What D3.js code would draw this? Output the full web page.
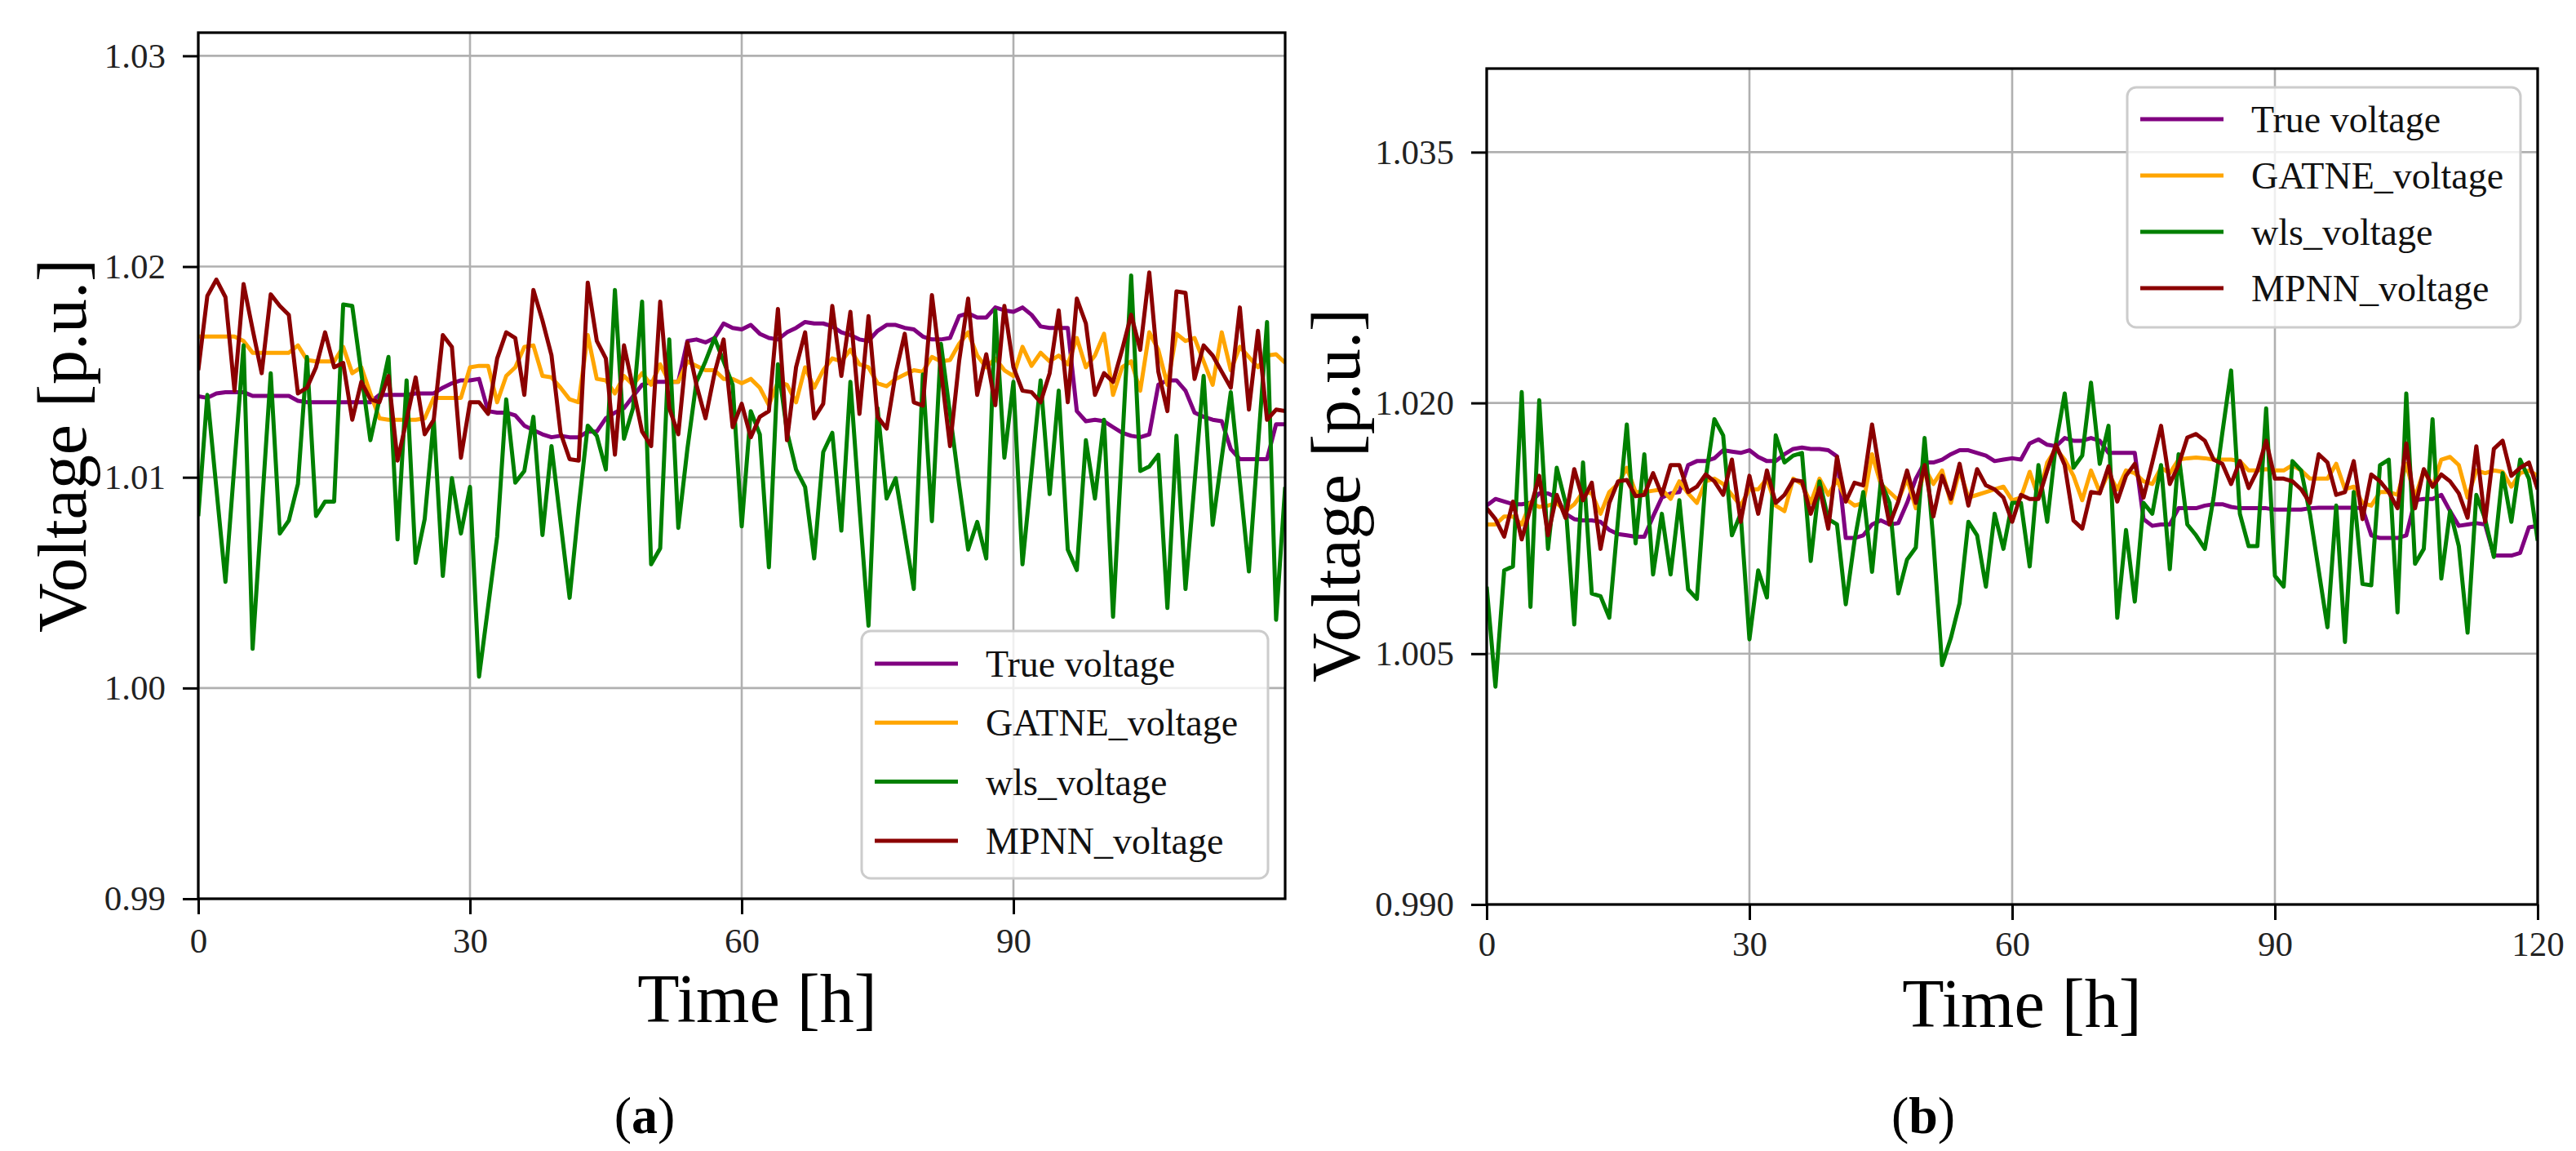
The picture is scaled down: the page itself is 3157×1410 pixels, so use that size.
<!DOCTYPE html>
<html>
<head>
<meta charset="utf-8">
<script src="https://cdn.jsdelivr.net/npm/d3@7"></script>
<style>
  body { margin: 0; background: #fff; }
  svg { display: block; }
  text { font-family: "Liberation Serif", "Times New Roman", serif; }
</style>
</head>
<body>
<svg id="fig"></svg>
<script>
// Figure size
const W = 3157, H = 1410;

// Hours on the x axis (0..120)
const hours = d3.range(121);

// Series names and colours (matplotlib named colours)
const seriesNames = ["True voltage", "GATNE_voltage", "wls_voltage", "MPNN_voltage"];
const seriesColors = ["#800080", "#ffa500", "#008000", "#8b0000"];

// Tick values
const xTicksA = [0, 30, 60, 90];
const xTicksB = [0, 30, 60, 90, 120];
const yTicksA = [0.99, 1.00, 1.01, 1.02, 1.03];
const yTicksB = [0.990, 1.005, 1.020, 1.035];

// ---- Panel (a) data ----
const trueA = [1.01384,1.01377,1.01398,1.01404,1.01404,1.01404,1.01386,1.01386,1.01386,1.01386,
1.01386,1.01363,1.01356,1.01356,1.01356,1.01356,1.01356,1.01356,1.01356,1.01356,
1.01391,1.01391,1.01391,1.01391,1.01398,1.01398,1.01398,1.01425,1.01446,1.0146,
1.0146,1.01467,1.01314,1.01307,1.01307,1.01294,1.01245,1.01224,1.01204,1.0119,
1.01197,1.0119,1.0119,1.01217,1.01217,1.0128,1.01307,1.01328,1.01384,1.01439,
1.01453,1.01453,1.01453,1.01453,1.01647,1.01654,1.0164,1.01661,1.0173,1.01709,
1.01702,1.01723,1.01681,1.01661,1.01654,1.01688,1.01709,1.01737,1.0173,1.0173,
1.01716,1.01688,1.01675,1.01654,1.01647,1.01695,1.01723,1.01723,1.01709,1.01702,
1.01668,1.01654,1.01654,1.01661,1.01765,1.01778,1.01758,1.01758,1.01806,1.01792,
1.01785,1.01806,1.01771,1.01716,1.01709,1.01709,1.01709,1.01314,1.01266,1.01273,
1.01266,1.01238,1.01211,1.01197,1.0119,1.01204,1.01439,1.0146,1.0146,1.01411,
1.01307,1.01287,1.01273,1.01266,1.01134,1.01086,1.01086,1.01086,1.01086,1.01252,
1.01252];

const gatneA = [1.01668,1.01668,1.01668,1.01668,1.01668,1.01647,1.01591,1.01591,1.01591,1.01591,
1.01591,1.01626,1.01557,1.0155,1.0155,1.0155,1.01619,1.01494,1.01522,1.01398,
1.0128,1.01273,1.01273,1.01273,1.01273,1.0128,1.01377,1.01377,1.01377,1.01377,
1.01522,1.01529,1.01529,1.01356,1.01481,1.01522,1.01619,1.01626,1.01481,1.01474,
1.01425,1.0137,1.01356,1.01675,1.01467,1.0146,1.01398,1.01481,1.01439,1.01494,
1.01439,1.01536,1.01453,1.01453,1.0155,1.01529,1.01508,1.01508,1.01467,1.01467,
1.01446,1.01467,1.01425,1.01342,1.01453,1.01439,1.01356,1.01522,1.01425,1.01508,
1.01564,1.0155,1.01605,1.01536,1.01522,1.01446,1.01432,1.01467,1.01488,1.01508,
1.01501,1.01571,1.0155,1.01557,1.01633,1.01688,1.01578,1.01522,1.01564,1.01508,
1.01481,1.01619,1.01529,1.01591,1.0155,1.01578,1.01536,1.01661,1.01522,1.01578,
1.01681,1.01391,1.01522,1.0155,1.01411,1.01688,1.01605,1.01439,1.01681,1.01647,
1.01661,1.0155,1.01439,1.01688,1.01508,1.01619,1.01571,1.01522,1.01578,1.01584,
1.01543];

const wlsA = [1.00816,1.01391,1.00947,1.00504,1.01065,1.01626,1.00186,1.00843,1.01494,1.00733,
1.00795,1.00968,1.01571,1.00816,1.00885,1.00885,1.0182,1.01813,1.01494,1.01176,
1.0137,1.01571,1.00705,1.0146,1.00594,1.00802,1.01273,1.00532,1.00996,1.00733,
1.00954,1.00054,1.00386,1.00719,1.0137,1.00975,1.0103,1.01287,1.00726,1.01148,
1.00788,1.00428,1.00857,1.01245,1.01197,1.01037,1.01889,1.01183,1.01328,1.01834,
1.00587,1.00663,1.01654,1.0076,1.01134,1.01453,1.0155,1.01661,1.0155,1.01439,
1.00767,1.01314,1.01204,1.00573,1.01536,1.01217,1.01037,1.00954,1.00615,1.0112,
1.01211,1.00747,1.01453,1.00857,1.00296,1.01328,1.00899,1.00996,1.00733,1.0047,
1.01488,1.00792,1.01633,1.01301,1.00968,1.00657,1.00788,1.00615,1.01792,1.01093,
1.01453,1.00587,1.01024,1.0146,1.0092,1.01411,1.00657,1.0056,1.01176,1.00899,
1.01273,1.00338,1.01148,1.01958,1.0103,1.01051,1.01107,1.0038,1.01197,1.0047,
1.00975,1.01481,1.00774,1.01093,1.01404,1.00982,1.00553,1.01148,1.01737,1.00324,
1.00954];

const mpnnA = [1.01508,1.01861,1.01938,1.01855,1.01411,1.01917,1.01702,1.01494,1.01868,1.01813,
1.01771,1.01398,1.01425,1.01522,1.01688,1.01522,1.01543,1.01273,1.01453,1.0137,
1.01356,1.01481,1.01079,1.01273,1.01474,1.01204,1.01273,1.01675,1.01619,1.01093,
1.01356,1.01356,1.01301,1.01564,1.01688,1.01661,1.01391,1.01889,1.01744,1.01578,
1.01211,1.01086,1.01079,1.01924,1.01647,1.01564,1.01107,1.01626,1.01425,1.01217,
1.01148,1.01834,1.01328,1.01204,1.0164,1.01439,1.0128,1.01494,1.01654,1.01238,
1.01349,1.0119,1.01287,1.01314,1.01799,1.01176,1.01522,1.01688,1.0128,1.01349,
1.01813,1.01481,1.01785,1.01301,1.01765,1.01287,1.01231,1.01494,1.01681,1.01356,
1.0134,1.01865,1.01508,1.01148,1.0155,1.01848,1.01391,1.01584,1.01342,1.01813,
1.01522,1.01411,1.01404,1.01356,1.01494,1.01792,1.01356,1.01848,1.0173,1.01391,
1.01494,1.01453,1.01605,1.01771,1.01605,1.01972,1.01501,1.01314,1.01882,1.01875,
1.01467,1.01626,1.01578,1.01501,1.01425,1.01806,1.01321,1.01695,1.01273,1.01321,
1.01314];

// ---- Panel (b) data ----
const trueB = [1.01386,1.01426,1.0141,1.01394,1.01394,1.01402,1.01459,1.01459,1.01434,1.01337,
1.01305,1.01297,1.01297,1.01289,1.0124,1.01216,1.01208,1.012,1.012,1.01321,
1.01434,1.01459,1.01467,1.01628,1.01652,1.01652,1.01669,1.01717,1.01709,1.01701,
1.01717,1.01677,1.01652,1.01652,1.01693,1.01725,1.01733,1.01725,1.01725,1.01717,
1.0168,1.01192,1.01192,1.01208,1.01273,1.01297,1.01273,1.01281,1.01402,1.01547,
1.01644,1.01644,1.01661,1.01693,1.01717,1.01717,1.01701,1.01685,1.01652,1.01661,
1.01669,1.01661,1.01758,1.01782,1.0175,1.01741,1.0179,1.01774,1.01774,1.0179,
1.01774,1.01701,1.01701,1.01701,1.01701,1.01305,1.01265,1.01273,1.01273,1.0137,
1.0137,1.0137,1.01386,1.01394,1.01394,1.01378,1.0137,1.0137,1.0137,1.0137,
1.01362,1.01362,1.01362,1.01362,1.0137,1.01373,1.01373,1.01373,1.01373,1.01373,
1.0137,1.01208,1.01192,1.01192,1.01192,1.01208,1.01418,1.01426,1.01426,1.0145,
1.01353,1.01265,1.01273,1.01281,1.01273,1.01087,1.01087,1.01087,1.01103,1.01256,
1.01265];

const gatneB = [1.01273,1.01273,1.01321,1.01321,1.01273,1.01402,1.01378,1.01386,1.01402,1.01353,
1.01394,1.01467,1.01459,1.01337,1.01467,1.01515,1.01612,1.01467,1.01467,1.01475,
1.01483,1.01426,1.01531,1.01459,1.01402,1.01531,1.01547,1.01515,1.0145,1.01386,
1.01483,1.01483,1.01547,1.01386,1.01353,1.01547,1.01515,1.01402,1.01547,1.0145,
1.01539,1.01426,1.01386,1.01402,1.01693,1.01515,1.01467,1.01418,1.01547,1.0137,
1.01612,1.01515,1.01596,1.01402,1.01596,1.01434,1.0145,1.01467,1.01483,1.01499,
1.01418,1.01434,1.01588,1.01434,1.01644,1.01725,1.01661,1.01564,1.01418,1.01596,
1.01467,1.0158,1.01483,1.01596,1.0158,1.01531,1.01515,1.01612,1.0158,1.01661,
1.01669,1.01673,1.01669,1.01661,1.01661,1.01661,1.01652,1.01596,1.01596,1.01604,
1.01596,1.01596,1.01628,1.01596,1.01547,1.01547,1.01547,1.01636,1.01483,1.01499,
1.01402,1.01386,1.01467,1.01467,1.0145,1.01636,1.01434,1.01596,1.01499,1.01661,
1.01677,1.01628,1.01434,1.01596,1.0158,1.01596,1.01588,1.01499,1.0158,1.01596,
1.01564];

const wlsB = [1.00901,1.00303,1.00998,1.01022,1.02065,1.0078,1.02016,1.01127,1.01612,1.01402,
1.00675,1.01644,1.0086,1.00844,1.00715,1.01305,1.01871,1.0116,1.01693,1.00974,
1.01337,1.00974,1.01418,1.00885,1.00828,1.01547,1.01903,1.01806,1.01208,1.01337,
1.00586,1.00998,1.00836,1.01806,1.01644,1.01685,1.01701,1.01054,1.01531,1.01305,
1.01273,1.00796,1.01176,1.01467,1.0099,1.01531,1.01402,1.0086,1.01063,1.01135,
1.0179,1.01176,1.00432,1.00594,1.00804,1.01289,1.01208,1.00901,1.01337,1.01127,
1.01402,1.01402,1.01022,1.01628,1.01289,1.01758,1.02057,1.01612,1.01685,1.02121,
1.01636,1.01863,1.00715,1.0124,1.00812,1.01402,1.01337,1.01628,1.01006,1.01693,
1.01273,1.01208,1.01127,1.01434,1.01822,1.02194,1.01337,1.01143,1.01143,1.01968,
1.00966,1.00901,1.01652,1.01596,1.01337,1.00998,1.00658,1.01386,1.0057,1.01467,
1.00917,1.00909,1.01628,1.01661,1.00747,1.02057,1.01038,1.01127,1.01903,1.00949,
1.01353,1.01143,1.00626,1.0145,1.01305,1.01079,1.0158,1.01289,1.01661,1.01547,
1.01176];

const mpnnB = [1.0137,1.01305,1.012,1.0141,1.01184,1.0137,1.01564,1.01208,1.0145,1.01313,
1.01604,1.01418,1.01523,1.01127,1.01402,1.01531,1.01539,1.01442,1.0145,1.0158,
1.0145,1.01628,1.01628,1.01467,1.01499,1.01572,1.01531,1.0145,1.01661,1.01289,
1.01564,1.01337,1.01596,1.01402,1.0145,1.01539,1.01531,1.01337,1.01491,1.01248,
1.01677,1.0141,1.01523,1.01507,1.01871,1.01547,1.01273,1.0141,1.01596,1.01402,
1.01628,1.01321,1.01564,1.01426,1.01636,1.01386,1.01604,1.01507,1.01483,1.01434,
1.01289,1.0145,1.01426,1.01426,1.01596,1.0175,1.01628,1.01297,1.01248,1.01467,
1.01459,1.0162,1.0141,1.01564,1.01636,1.01434,1.01644,1.01863,1.01515,1.01628,
1.01793,1.01814,1.01774,1.01661,1.01636,1.01515,1.01652,1.01491,1.01596,1.01774,
1.01547,1.01547,1.01531,1.01483,1.01402,1.01693,1.01644,1.0145,1.01467,1.01652,
1.01305,1.01572,1.01531,1.01467,1.0137,1.01758,1.0137,1.01604,1.01499,1.01572,
1.01531,1.01459,1.01313,1.01741,1.01289,1.01725,1.01774,1.01564,1.01612,1.01644,
1.01483];

const svg = d3.select("#fig")
  .attr("width", W)
  .attr("height", H)
  .attr("viewBox", `0 0 ${W} ${H}`);

svg.append("rect").attr("width", W).attr("height", H).attr("fill", "#fff");

// Draw one subplot
function drawPanel(p) {
  const x = d3.scaleLinear().domain([0, 120]).range([p.left, p.right]);
  const y = d3.scaleLinear().domain(p.yDomain).range([p.bottom, p.top]);
  const g = svg.append("g");

  const clipId = "clip-" + p.id;
  svg.append("clipPath").attr("id", clipId)
    .append("rect")
    .attr("x", p.left).attr("y", p.top)
    .attr("width", p.right - p.left).attr("height", p.bottom - p.top);

  // grid
  g.append("g").selectAll("line")
    .data(p.xTicks)
    .enter().append("line")
    .attr("x1", d => x(d)).attr("x2", d => x(d))
    .attr("y1", p.top).attr("y2", p.bottom)
    .attr("stroke", "#b0b0b0").attr("stroke-width", 2.6);
  g.append("g").selectAll("line")
    .data(p.yTicks)
    .enter().append("line")
    .attr("x1", p.left).attr("x2", p.right)
    .attr("y1", d => y(d)).attr("y2", d => y(d))
    .attr("stroke", "#b0b0b0").attr("stroke-width", 2.6);

  // series
  const line = d3.line()
    .x((d, i) => x(hours[i]))
    .y(d => y(d));
  const lines = g.append("g").attr("clip-path", `url(#${clipId})`);
  p.series.forEach((s, k) => {
    lines.append("path")
      .datum(s)
      .attr("d", line)
      .attr("fill", "none")
      .attr("stroke", seriesColors[k])
      .attr("stroke-width", 5)
      .attr("stroke-linejoin", "round");
  });

  // axes
  const xAxis = g.append("g")
    .attr("transform", `translate(0,${p.bottom})`)
    .call(d3.axisBottom(x).tickValues(p.xTicks).tickFormat(d3.format("d"))
      .tickSize(19).tickSizeOuter(0).tickPadding(p.xPad));
  const yAxis = g.append("g")
    .attr("transform", `translate(${p.left},0)`)
    .call(d3.axisLeft(y).tickValues(p.yTicks).tickFormat(d3.format(p.yFmt))
      .tickSize(19).tickSizeOuter(0).tickPadding(21));
  [xAxis, yAxis].forEach(a => {
    a.select(".domain").remove();
    a.selectAll(".tick line").attr("stroke", "#000").attr("stroke-width", 3);
    a.selectAll(".tick text")
      .attr("fill", "#222")
      .style("font-size", "43px")
      .style("font-family", '"Liberation Serif", serif');
  });

  // frame
  g.append("rect")
    .attr("x", p.left).attr("y", p.top)
    .attr("width", p.right - p.left).attr("height", p.bottom - p.top)
    .attr("fill", "none").attr("stroke", "#000").attr("stroke-width", 3.2);

  // axis labels
  g.append("text")
    .attr("x", p.xLabelX).attr("y", p.xLabelY)
    .attr("text-anchor", "middle")
    .style("font-size", "84px")
    .text("Time [h]");
  g.append("text")
    .attr("transform", `translate(${p.yLabelX},${p.yLabelY}) rotate(-90)`)
    .attr("text-anchor", "middle")
    .style("font-size", "84px")
    .text("Voltage [p.u.]");

  // legend
  const lg = g.append("g").attr("transform", `translate(${p.legend.x},${p.legend.y})`);
  lg.append("rect")
    .attr("width", p.legend.w).attr("height", p.legend.h)
    .attr("rx", 11).attr("ry", 11)
    .attr("fill", "#fff").attr("fill-opacity", 0.8)
    .attr("stroke", "#cccccc").attr("stroke-width", 3);
  seriesNames.forEach((name, k) => {
    const ry = p.legend.row0 + k * p.legend.gap;
    lg.append("line")
      .attr("x1", 16).attr("x2", 118)
      .attr("y1", ry).attr("y2", ry)
      .attr("stroke", seriesColors[k]).attr("stroke-width", 5);
    lg.append("text")
      .attr("x", 152).attr("y", ry)
      .attr("dy", "0.35em")
      .attr("fill", "#111")
      .style("font-size", "46px")
      .text(name);
  });

  // caption
  const cap = g.append("text")
    .attr("x", p.captionX).attr("y", 1388)
    .attr("text-anchor", "middle")
    .style("font-size", "64px");
  cap.append("tspan").text("(");
  cap.append("tspan").attr("font-weight", "bold").text(p.caption);
  cap.append("tspan").text(")");
}

drawPanel({
  id: "a",
  left: 243, right: 1575, top: 40, bottom: 1101,
  yDomain: [0.99, 1.0311], yTicks: yTicksA, yFmt: ".2f", xTicks: xTicksA, xPad: 16,
  series: [trueA, gatneA, wlsA, mpnnA],
  xLabelX: 928, xLabelY: 1252, yLabelX: 105, yLabelY: 546,
  legend: { x: 1056, y: 773, w: 498, h: 303, row0: 40, gap: 72.3 },
  captionX: 790, caption: "a"
});

drawPanel({
  id: "b",
  left: 1822, right: 3110, top: 84, bottom: 1108,
  yDomain: [0.99, 1.04], yTicks: yTicksB, yFmt: ".3f", xTicks: xTicksB, xPad: 13,
  series: [trueB, gatneB, wlsB, mpnnB],
  xLabelX: 2478, xLabelY: 1258, yLabelX: 1666, yLabelY: 607,
  legend: { x: 2607, y: 107, w: 482, h: 294, row0: 39, gap: 69 },
  captionX: 2357, caption: "b"
});
</script>
</body>
</html>
